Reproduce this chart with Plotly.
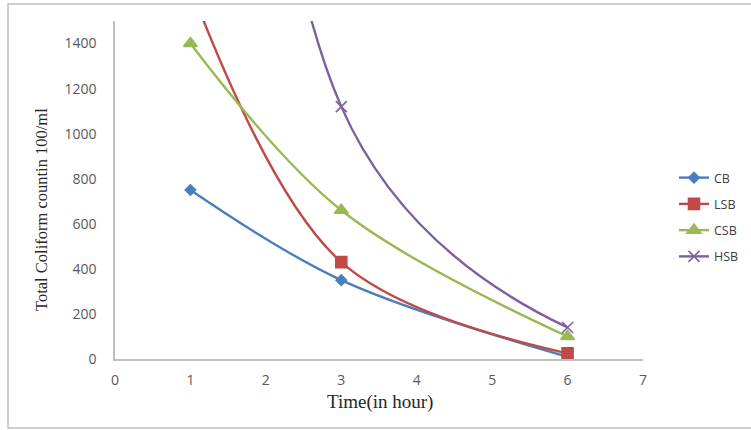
import plotly.graph_objects as go

hours = [1, 3, 6]
cb = [750, 350, 10]
lsb = [1650, 430, 25]
csb = [1400, 660, 100]
hsb = [24000, 1120, 140]
y_ticks = [0, 200, 400, 600, 800, 1000, 1200, 1400]
x_ticks = [0, 1, 2, 3, 4, 5, 6, 7]

series = [
    ("CB", cb, "#4A7EBB", "diamond", 8),
    ("LSB", lsb, "#BE4B48", "square", 11),
    ("CSB", csb, "#98B954", "triangle-up", 12),
    ("HSB", hsb, "#7D60A0", "x-thin", 11),
]

fig = go.Figure()
for name, vals, col, sym, sz in series:
    fig.add_trace(go.Scatter(
        x=hours, y=vals, name=name, mode="lines+markers", legendgroup=name,
        line=dict(color=col, width=2.4, shape="spline", smoothing=1.0),
        marker=dict(symbol=sym, size=sz, color=col, line=dict(color=col, width=1.6)),
        cliponaxis=True,
    ))

W, H = 751, 430
L, R, T, B = 115, 643, 21, 359
pw, ph = R - L, B - T

def px(x):
    return (x - L) / pw

def py(y):
    return (B - y) / ph

tick_font = dict(family="Open Sans, Lato, sans-serif", size=14, color="#595959")

fig.update_layout(
    width=W, height=H,
    margin=dict(l=L, r=W - R, t=T, b=H - B, autoexpand=False),
    paper_bgcolor="white", plot_bgcolor="white",
    showlegend=True,
    legend=dict(x=px(674), y=py(163), xanchor="left", yanchor="top",
                font=dict(family="Open Sans, Lato, sans-serif", size=12.5, color="#404040"),
                itemwidth=30, traceorder="grouped", tracegroupgap=7,
                bgcolor="rgba(0,0,0,0)"),
    xaxis=dict(range=[0, 7], tickvals=x_ticks, showgrid=False, zeroline=False,
               showline=True, linecolor="#BFBFBF", linewidth=1.5,
               ticks="outside", ticklen=7, tickcolor="rgba(0,0,0,0)",
               tickfont=tick_font, automargin=False),
    yaxis=dict(range=[0, 1500], tickvals=y_ticks, showgrid=False, zeroline=False,
               showline=True, linecolor="#BFBFBF", linewidth=1.5,
               ticks="outside", ticklen=14, tickcolor="rgba(0,0,0,0)",
               tickfont=tick_font, automargin=False),
    annotations=[
        dict(text="Time(in hour)", x=px(380), y=py(402), xref="paper", yref="paper",
             showarrow=False, xanchor="center", yanchor="middle",
             font=dict(family="Liberation Serif, serif", size=19, color="#262626")),
        dict(text="Total Coliform countin 100/ml", x=px(41), y=py(210), xref="paper", yref="paper",
             showarrow=False, xanchor="center", yanchor="middle", textangle=-90,
             font=dict(family="Liberation Serif, serif", size=16.5, color="#262626")),
    ],
    shapes=[
        dict(type="rect", xref="paper", yref="paper", x0=px(8), y0=py(428), x1=px(770), y1=py(4),
             line=dict(color="#BFBFBF", width=1.5), fillcolor="rgba(0,0,0,0)", layer="below"),
    ],
)

fig.write_html("out.html")
